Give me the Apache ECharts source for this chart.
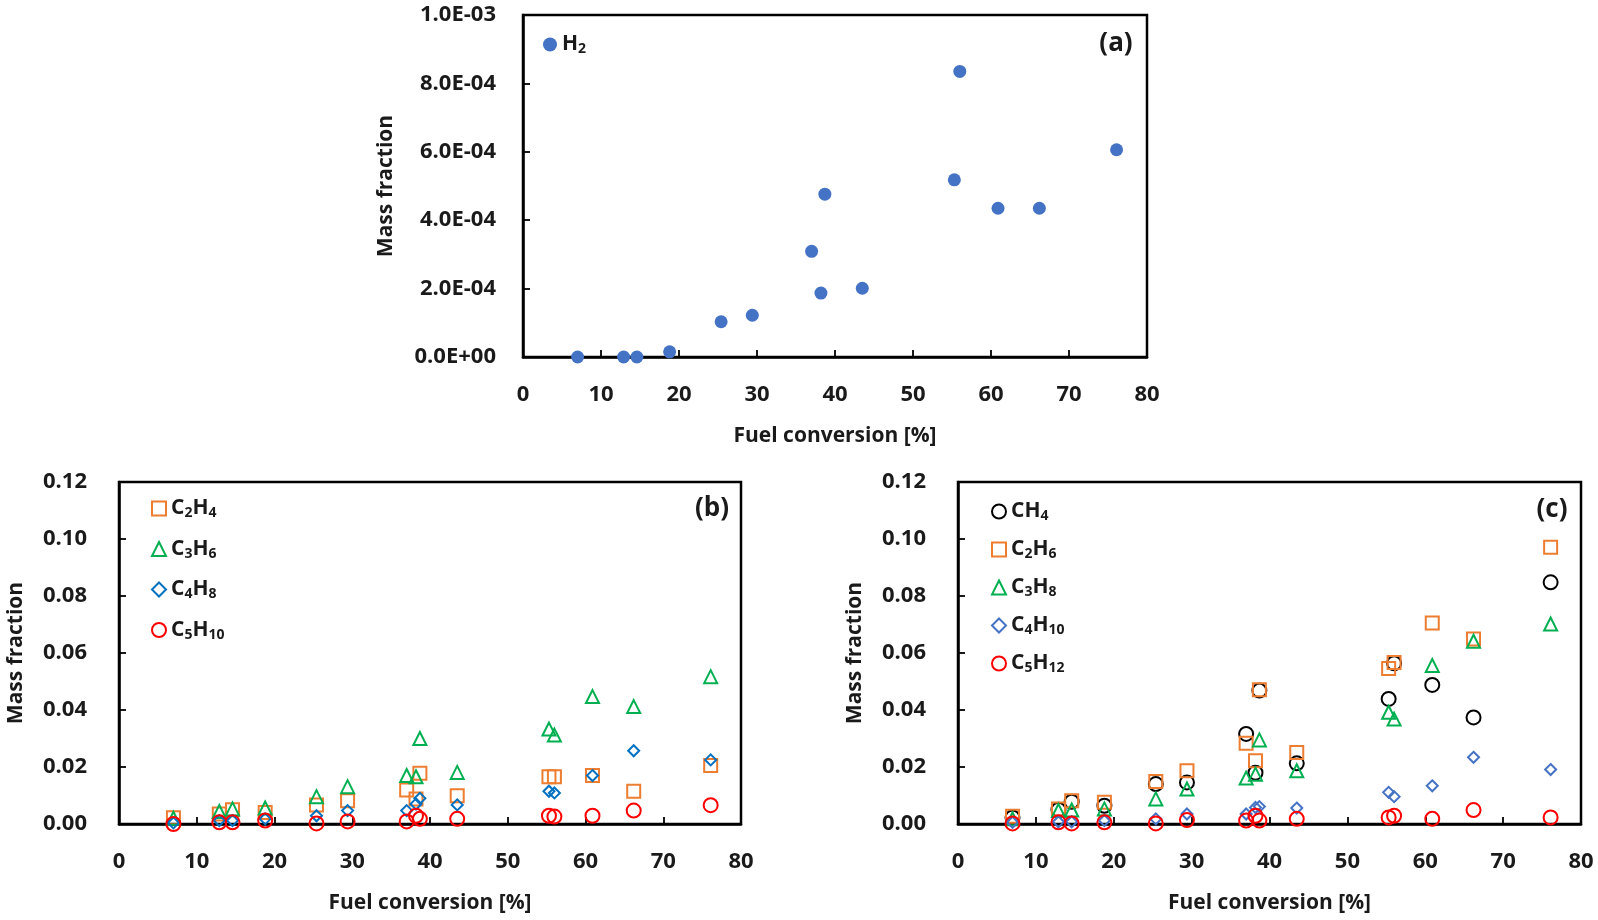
<!DOCTYPE html>
<html>
<head>
<meta charset="utf-8">
<title>Mass fraction vs fuel conversion</title>
<script src="https://cdn.jsdelivr.net/npm/echarts@6/dist/echarts.min.js"></script>
<style>
  html, body { margin: 0; padding: 0; background: #fff; }
  #chart { width: 1598px; height: 920px; }
</style>
</head>
<body>
<div id="chart"></div>
<script>
// fuel conversion [%] of each run (same for all species)
var conversion = [7.0, 12.9, 14.6, 18.8, 25.4, 29.4, 37.0, 38.2, 38.7, 43.5, 55.3, 56.0, 60.9, 66.2, 76.1];

// (a) hydrogen
var h2 = [0, 0, 0, 1.5e-5, 1.03e-4, 1.22e-4, 3.09e-4, 1.87e-4, 4.76e-4, 2.01e-4, 5.18e-4, 8.35e-4, 4.35e-4, 4.35e-4, 6.06e-4];

// (b) olefins
var c2h4  = [0.0022, 0.0035, 0.0050, 0.0040, 0.0067, 0.0082, 0.0119, 0.0088, 0.0178, 0.0099, 0.0166, 0.0166, 0.0170, 0.0115, 0.0205];
var c3h6  = [0.0020, 0.0044, 0.0053, 0.0056, 0.0096, 0.0131, 0.0170, 0.0166, 0.0300, 0.0181, 0.0333, 0.0312, 0.0447, 0.0412, 0.0517];
var c4h8  = [0.0004, 0.0012, 0.0012, 0.0018, 0.0029, 0.0047, 0.0047, 0.0070, 0.0090, 0.0067, 0.0115, 0.0109, 0.0170, 0.0257, 0.0225];
var c5h10 = [0.0000, 0.0006, 0.0006, 0.0012, 0.0002, 0.0009, 0.0009, 0.0029, 0.0018, 0.0018, 0.0029, 0.0026, 0.0029, 0.0047, 0.0066];

// (c) paraffins
var ch4   = [0.0023, 0.0050, 0.0078, 0.0064, 0.0140, 0.0146, 0.0316, 0.0180, 0.0468, 0.0213, 0.0439, 0.0564, 0.0488, 0.0374, 0.0848];
var c2h6  = [0.0027, 0.0053, 0.0082, 0.0076, 0.0149, 0.0187, 0.0283, 0.0222, 0.0471, 0.0251, 0.0546, 0.0567, 0.0705, 0.0649, 0.0971];
var c3h8  = [0.0018, 0.0047, 0.0049, 0.0053, 0.0088, 0.0123, 0.0161, 0.0175, 0.0295, 0.0187, 0.0392, 0.0368, 0.0556, 0.0641, 0.0702];
var c4h10 = [0.0006, 0.0008, 0.0008, 0.0012, 0.0018, 0.0035, 0.0035, 0.0058, 0.0061, 0.0056, 0.0111, 0.0096, 0.0134, 0.0234, 0.0191];
var c5h12 = [0.0002, 0.0006, 0.0002, 0.0006, 0.0002, 0.0014, 0.0012, 0.0029, 0.0012, 0.0018, 0.0023, 0.0029, 0.0018, 0.0049, 0.0023];

var FONT = '"Open Sans", "Noto Sans", sans-serif';
var INK = '#1a1a1a';

function pairs(ys) {
  return conversion.map(function(x, i) { return [x, ys[i]]; });
}

// 1.0E-03 style labels
function sciLabel(v) {
  if (v === 0) return '0.0E+00';
  var e = Math.floor(Math.log10(Math.abs(v)) + 1e-9);
  var m = Math.round(v / Math.pow(10, e) * 10) / 10;
  if (m >= 10) { m = m / 10; e++; }
  var ae = Math.abs(e);
  return m.toFixed(1) + 'E' + (e < 0 ? '-' : '+') + (ae < 10 ? '0' + ae : ae);
}

// C2H4 -> rich text with subscript digits
function formula(name) {
  return name.match(/\D+|\d+/g).map(function(t) {
    return /\d/.test(t) ? '{s|' + t + '}' : '{n|' + t + '}';
  }).join('');
}

var legendText = {
  fontFamily: FONT,
  fontWeight: 'bold',
  color: INK,
  rich: {
    n: { fontFamily: FONT, fontWeight: 'bold', fontSize: 21, lineHeight: 24, color: INK, verticalAlign: 'middle' },
    s: { fontFamily: FONT, fontWeight: 'bold', fontSize: 14, lineHeight: 24, color: INK, verticalAlign: 'bottom' }
  }
};

function xAxisFor(idx) {
  return {
    gridIndex: idx, type: 'value', min: 0, max: 80, interval: 10,
    name: 'Fuel conversion [%]', nameLocation: 'middle', nameGap: 69,
    nameTextStyle: { fontFamily: FONT, fontWeight: 'bold', fontSize: 21, color: INK },
    axisLine: { show: true, onZero: false, lineStyle: { color: '#000', width: 2.5 } },
    axisTick: { show: true, inside: true, length: 7, lineStyle: { color: '#000', width: 1.8 } },
    axisLabel: { fontFamily: FONT, fontWeight: 'bold', fontSize: 22, color: INK, margin: 27 },
    splitLine: { show: false }
  };
}

function yAxisFor(idx, max, interval, fmt, gap, margin) {
  return {
    gridIndex: idx, type: 'value', min: 0, max: max, interval: interval,
    name: 'Mass fraction', nameLocation: 'middle', nameGap: gap, nameRotate: 90,
    nameTextStyle: { fontFamily: FONT, fontWeight: 'bold', fontSize: 21, color: INK },
    axisLine: { show: true, onZero: false, lineStyle: { color: '#000', width: 2.5 } },
    axisTick: { show: true, inside: true, length: 7, lineStyle: { color: '#000', width: 1.8 } },
    axisLabel: { fontFamily: FONT, fontWeight: 'bold', fontSize: 22, color: INK, margin: margin, formatter: fmt },
    splitLine: { show: false }
  };
}

function hollow(name, ys, axis, symbol, size, color) {
  return {
    name: name, type: 'scatter', xAxisIndex: axis, yAxisIndex: axis,
    symbol: symbol, symbolSize: size, clip: false,
    itemStyle: { color: 'rgba(255,255,255,0)', borderColor: color, borderWidth: 2, opacity: 1 },
    emphasis: { disabled: true },
    data: pairs(ys)
  };
}

var gridBase = { show: true, borderColor: '#000', borderWidth: 2.5, backgroundColor: 'transparent', containLabel: false, outerBoundsMode: 'none' };

var option = {
  backgroundColor: '#fff',
  animation: false,
  grid: [
    Object.assign({ left: 523, top: 15, width: 624, height: 342 }, gridBase),
    Object.assign({ left: 119, top: 482, width: 622, height: 342 }, gridBase),
    Object.assign({ left: 958, top: 482, width: 623, height: 342 }, gridBase)
  ],
  xAxis: [xAxisFor(0), xAxisFor(1), xAxisFor(2)],
  yAxis: [
    yAxisFor(0, 0.001, 0.0002, sciLabel, 126, 27),
    yAxisFor(1, 0.12, 0.02, function(v) { return v.toFixed(2); }, 92, 32),
    yAxisFor(2, 0.12, 0.02, function(v) { return v.toFixed(2); }, 92, 32)
  ],
  legend: [
    { data: ['H2'], left: 538, top: 29, orient: 'vertical', itemWidth: 14, itemHeight: 14,
      formatter: formula, textStyle: legendText, selectedMode: false },
    { data: ['C2H4', 'C3H6', 'C4H8', 'C5H10'], left: 146, top: 493, orient: 'vertical', itemGap: 18,
      itemWidth: 14, itemHeight: 14, formatter: formula, textStyle: legendText, selectedMode: false },
    { data: ['CH4', 'C2H6', 'C3H8', 'C4H10', 'C5H12'], left: 986, top: 496, orient: 'vertical', itemGap: 15.5,
      itemWidth: 14, itemHeight: 14, formatter: formula, textStyle: legendText, selectedMode: false }
  ],
  graphic: [
    { type: 'text', x: 1116, y: 44, style: { text: '(a)', fontFamily: FONT, fontWeight: 'bold', fontSize: 26, fill: INK, align: 'center', verticalAlign: 'middle' } },
    { type: 'text', x: 712, y: 509, style: { text: '(b)', fontFamily: FONT, fontWeight: 'bold', fontSize: 26, fill: INK, align: 'center', verticalAlign: 'middle' } },
    { type: 'text', x: 1552, y: 510, style: { text: '(c)', fontFamily: FONT, fontWeight: 'bold', fontSize: 26, fill: INK, align: 'center', verticalAlign: 'middle' } }
  ],
  series: [
    { name: 'H2', type: 'scatter', xAxisIndex: 0, yAxisIndex: 0, symbol: 'circle', symbolSize: 13, clip: false,
      itemStyle: { color: '#4472C4', opacity: 1 }, emphasis: { disabled: true }, data: pairs(h2) },

    hollow('C2H4', c2h4, 1, 'rect', 13, '#ED7D31'),
    hollow('C3H6', c3h6, 1, 'triangle', 13, '#00B050'),
    hollow('C4H8', c4h8, 1, 'diamond', 11, '#0070C0'),
    hollow('C5H10', c5h10, 1, 'circle', 14, '#FF0000'),

    hollow('CH4', ch4, 2, 'circle', 14, '#000000'),
    hollow('C2H6', c2h6, 2, 'rect', 13, '#ED7D31'),
    hollow('C3H8', c3h8, 2, 'triangle', 13, '#00B050'),
    hollow('C4H10', c4h10, 2, 'diamond', 11, '#4472C4'),
    hollow('C5H12', c5h12, 2, 'circle', 14, '#FF0000')
  ]
};

var myChart = echarts.init(document.getElementById('chart'));
myChart.setOption(option);
</script>
</body>
</html>
